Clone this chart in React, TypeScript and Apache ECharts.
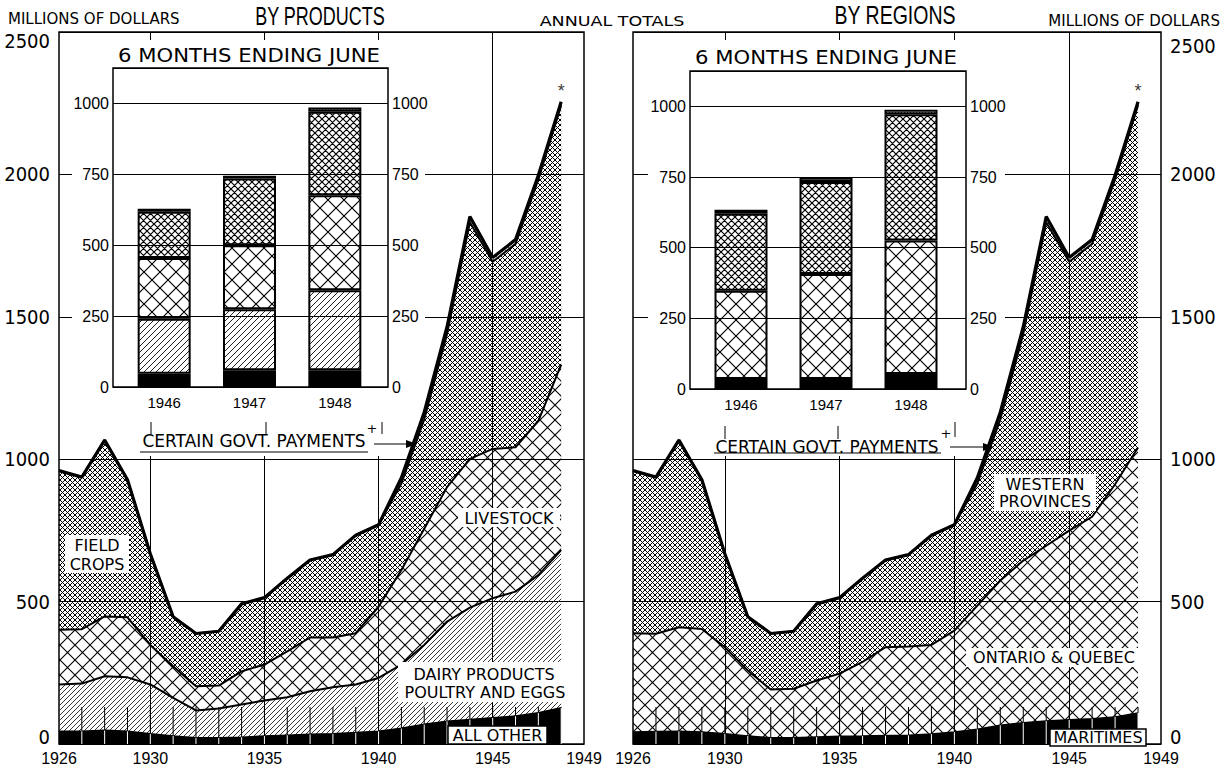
import React, { useEffect, useRef } from "react";
import * as echarts from "echarts";

// ---------- DATA ----------
const years = [1926, 1927, 1928, 1929, 1930, 1931, 1932, 1933, 1934, 1935, 1936, 1937, 1938, 1939, 1940, 1941, 1942, 1943, 1944, 1945, 1946, 1947, 1948];
const axisYears = ["1926", "1927", "1928", "1929", "1930", "1931", "1932", "1933", "1934", "1935", "1936", "1937", "1938", "1939", "1940", "1941", "1942", "1943", "1944", "1945", "1946", "1947", "1948", "1949"];
const labelYears = ["1926", "1930", "1935", "1940", "1945", "1949"];
const gridYears = ["1930", "1935", "1940", "1945"];
const totalIncome = [960, 937, 1067, 928, 668, 447, 388, 396, 492, 514, 582, 646, 665, 733, 770, 935, 1165, 1465, 1852, 1708, 1771, 1997, 2255];
const govtPayments = [0, 0, 0, 0, 0, 0, 0, 0, 0, 0, 0, 0, 0, 0, 0, 20, 25, 25, 20, 15, 15, 15, 12];

// by products
const allOther = [45, 45, 48, 45, 36, 28, 22, 22, 24, 28, 31, 34, 36, 40, 45, 55, 69, 80, 86, 92, 98, 110, 127];
const dairyPoultryEggs = [164, 167, 190, 189, 173, 134, 96, 103, 115, 125, 133, 151, 163, 169, 187, 224, 279, 350, 393, 420, 437, 483, 554];
const livestock = [192, 191, 210, 211, 139, 111, 85, 80, 116, 126, 161, 189, 175, 180, 250, 332, 408, 472, 522, 524, 507, 542, 651];
const fieldCrops = [559, 534, 619, 483, 320, 174, 185, 191, 237, 235, 257, 272, 291, 344, 288, 304, 384, 538, 831, 657, 714, 847, 911];

// by regions
const maritimes = [42, 44, 45, 42, 36, 28, 22, 22, 25, 27, 28, 30, 31, 35, 42, 52, 66, 75, 81, 85, 89, 95, 109];
const ontarioQuebec = [347, 343, 365, 362, 304, 230, 169, 172, 198, 220, 260, 310, 311, 313, 356, 434, 508, 569, 615, 664, 709, 817, 932];
const westernProvinces = [571, 550, 657, 524, 328, 189, 197, 202, 269, 267, 294, 306, 323, 385, 372, 429, 566, 796, 1136, 944, 958, 1070, 1202];

// insets: 6 months ending June
const insetYears = ["1946", "1947", "1948"];
const allOther6 = [47, 59, 59];
const dairy6 = [194, 215, 282];
const livestock6 = [214, 226, 335];
const field6 = [163, 235, 295];
const govt6 = [11, 10, 15];
const maritimes6 = [35, 35, 53];
const ontQue6 = [313, 372, 472];
const western6 = [272, 325, 447];
const govt6R = [14, 15, 16];

const mainYTicks = [0, 500, 1000, 1500, 2000, 2500];

// ---------- STYLE HELPERS ----------
const LETTER = "'DejaVu Sans', 'Liberation Sans', sans-serif";
const NUM = "'Liberation Sans', Arial, sans-serif";
const NARROW = "'Liberation Sans Narrow', 'DejaVu Sans Condensed', 'Liberation Sans', sans-serif";

function makeCross(size: number, lw: number) {
  const c = document.createElement("canvas");
  c.width = size; c.height = size;
  const g = c.getContext("2d")!;
  g.strokeStyle = "#000"; g.lineWidth = lw;
  g.beginPath();
  for (const o of [-size, 0, size]) { g.moveTo(o, 0); g.lineTo(o + size, size); }
  for (const o of [-size, 0, size]) { g.moveTo(o, size); g.lineTo(o + size, 0); }
  g.stroke();
  return { image: c, repeat: "repeat", imageWidth: size, imageHeight: size };
}
function makeDiag(size: number, lw: number) {
  const c = document.createElement("canvas");
  c.width = size; c.height = size;
  const g = c.getContext("2d")!;
  g.strokeStyle = "#222"; g.lineWidth = lw;
  g.beginPath();
  for (const o of [-size, 0, size]) { g.moveTo(o, size); g.lineTo(o + size, 0); }
  g.stroke();
  return { image: c, repeat: "repeat", imageWidth: size, imageHeight: size };
}
function makeDots(size: number) {
  const c = document.createElement("canvas");
  c.width = size; c.height = size;
  const g = c.getContext("2d")!;
  g.fillStyle = "#fff"; g.fillRect(0, 0, size, size);
  g.fillStyle = "#444"; g.fillRect(1, 1, 1, 1);
  return { image: c, repeat: "repeat", imageWidth: size, imageHeight: size };
}

function buildOption() {
  const dense = makeCross(5, 1.0);
  const coarse = makeCross(15, 1.1);
  const diag = makeDiag(5, 0.9);
  const dots = makeDots(3);
  const denseI = makeCross(7, 1.2);
  const coarseI = makeCross(16, 1.2);
  const diagI = makeDiag(6, 1);
  const clear = "rgba(0,0,0,0)";

  const area = (name: string, data: number[], stack: string, color: any, lw: number, xi: number, yi: number) => ({
    name, type: "line", stack, xAxisIndex: xi, yAxisIndex: yi, data, symbol: "none",
    lineStyle: { color: "#000", width: lw }, areaStyle: { color, opacity: 1 }, z: 2, silent: true,
  });

  const bar = (name: string, data: number[], stack: string, color: any, xi: number, yi: number) => ({
    name, type: "bar", stack, xAxisIndex: xi, yAxisIndex: yi, data, barWidth: 53,
    itemStyle: { color, borderColor: "#000", borderWidth: 2 }, z: 3, silent: true,
  });

  const tickSeries = (xi: number, yi: number, base: number[]) => ({
    type: "custom", xAxisIndex: xi, yAxisIndex: yi, z: 3, silent: true,
    data: years.slice(1).map((y, i) => [String(y), base[i + 1]]),
    renderItem: (params: any, api: any) => {
      const x = api.value(0);
      const v = api.value(1);
      const p0 = api.coord([x, 0]);
      const p1 = api.coord([x, v]);
      return {
        type: "group",
        children: [
          { type: "line", shape: { x1: p0[0], y1: p0[1], x2: p1[0], y2: p1[1] }, style: { stroke: "#fff", lineWidth: 1 } },
          { type: "line", shape: { x1: p1[0], y1: p1[1], x2: p1[0], y2: p0[1] - 37 }, style: { stroke: "#000", lineWidth: 1 } },
        ],
      };
    },
  });

  const star = (xi: number, yi: number) => ({
    type: "scatter", xAxisIndex: xi, yAxisIndex: yi, z: 5, silent: true,
    data: [[String(years[years.length - 1]), totalIncome[totalIncome.length - 1]]],
    symbolSize: 1, itemStyle: { color: clear },
    label: { show: true, formatter: "*", position: "top", distance: 1, fontSize: 18, color: "#000", fontFamily: NUM },
  });

  const mainX = (gi: number) => ({
    gridIndex: gi, type: "category", data: axisYears, boundaryGap: false,
    axisLine: { show: false }, axisTick: { show: false },
    axisLabel: {
      interval: (i: number, v: string) => labelYears.includes(v),
      fontSize: 16, fontFamily: NUM, color: "#000", margin: 6,
    },
    splitLine: { show: true, interval: (i: number, v: string) => gridYears.includes(v), lineStyle: { color: "#000", width: 1 } },
    z: 0,
  });

  const rich = {
    dn: { fontSize: 20, fontFamily: NARROW, color: "#000", padding: [18, 0, 0, 0] },
    dn2: { fontSize: 20, fontFamily: NARROW, color: "#000", padding: [28, 0, 0, 0] },
    up: { fontSize: 20, fontFamily: NARROW, color: "#000", padding: [0, 0, 14, 0] },
  };
  const mainY = (gi: number, pos: string, shift: Record<number, string>) => ({
    gridIndex: gi, type: "value", min: mainYTicks[0], max: mainYTicks[mainYTicks.length - 1], interval: 500, position: pos,
    axisLine: { show: false }, axisTick: { show: false },
    axisLabel: {
      formatter: (v: number) => (shift[v] ? `{${shift[v]}|${v}}` : String(v)),
      fontSize: 20, fontFamily: NARROW, color: "#000", margin: 9, rich,
    },
    splitLine: { show: true, lineStyle: { color: "#000", width: 1 } },
    z: 0,
  });

  const frameY = (gi: number, pos: string, split: boolean) => ({
    gridIndex: gi, type: "value", min: 0, max: 1125, interval: 250, position: pos,
    axisLine: { show: false }, axisTick: { show: false },
    axisLabel: {
      formatter: (v: number) => (v > 1000 ? "" : String(v)),
      showMaxLabel: false, fontSize: 16, fontFamily: NUM, color: "#000", margin: 4,
    },
    splitLine: { show: split, lineStyle: { color: "#000", width: 1 } },
    z: 2,
  });

  const catX = (gi: number) => ({
    gridIndex: gi, type: "category", data: insetYears,
    axisLine: { show: false }, axisTick: { show: false },
    axisLabel: { fontSize: 15, fontFamily: NUM, color: "#000", margin: 8 }, z: 2,
  });

  const txt = (text: string, x: number, y: number, size: number, family: string, align = "center", scaleX = 1) => ({
    type: "text", x, y, scaleX, z: 11, silent: true,
    style: { text, fill: "#000", font: `${size}px ${family}`, textAlign: align, textVerticalAlign: "middle", verticalAlign: "middle" },
  });
  const whiteRect = (x: number, y: number, w: number, h: number, stroke = false, z = 10) => ({
    type: "rect", z, silent: true, shape: { x, y, width: w, height: h },
    style: stroke ? { fill: "#fff", stroke: "#000", lineWidth: 1.5 } : { fill: "#fff" },
  });
  const seg = (x1: number, y1: number, x2: number, y2: number, w = 1) => ({
    type: "line", z: 11, silent: true, shape: { x1, y1, x2, y2 }, style: { stroke: "#000", lineWidth: w },
  });
  const arrowHead = (x: number, y: number) => ({
    type: "polygon", z: 11, silent: true,
    shape: { points: [[x - 11, y - 4], [x, y], [x - 11, y + 4]] }, style: { fill: "#000" },
  });

  return {
    animation: false,
    backgroundColor: "#fff",
    grid: [
      { left: 59, top: 32, width: 525, height: 714, show: true, borderColor: "#000", borderWidth: 1.5, backgroundColor: clear },
      { left: 113, top: 68, width: 275, height: 319, show: true, borderColor: "#000", borderWidth: 1.5, backgroundColor: clear, z: 2 },
      { left: 121.5, top: 68, width: 256, height: 319, show: false },
      { left: 633, top: 32, width: 528, height: 714, show: true, borderColor: "#000", borderWidth: 1.5, backgroundColor: clear },
      { left: 690, top: 71, width: 276, height: 318, show: true, borderColor: "#000", borderWidth: 1.5, backgroundColor: clear, z: 2 },
      { left: 698.5, top: 71, width: 255, height: 318, show: false },
    ],
    xAxis: [
      mainX(0),
      { gridIndex: 1, type: "value", min: 0, max: 1, show: false },
      catX(2),
      mainX(3),
      { gridIndex: 4, type: "value", min: 0, max: 1, show: false },
      catX(5),
    ],
    yAxis: [
      mainY(0, "left", { 2500: "dn", 0: "up" }),
      frameY(1, "left", true),
      frameY(1, "right", false),
      { gridIndex: 2, type: "value", min: 0, max: 1125, show: false },
      mainY(3, "right", { 2500: "dn2", 0: "up" }),
      frameY(4, "left", true),
      frameY(4, "right", false),
      { gridIndex: 5, type: "value", min: 0, max: 1125, show: false },
    ],
    series: [
      // left main (by products)
      area("All other", allOther, "p", "#000", 1.5, 0, 0),
      area("Dairy products, poultry and eggs", dairyPoultryEggs, "p", diag, 2, 0, 0),
      area("Livestock", livestock, "p", coarse, 2, 0, 0),
      area("Field crops", fieldCrops, "p", dense, 2, 0, 0),
      area("Certain govt. payments", govtPayments, "p", dots, 3.2, 0, 0),
      tickSeries(0, 0, allOther),
      star(0, 0),
      // left inset
      bar("All other", allOther6, "i", "#000", 2, 3),
      bar("Dairy products, poultry and eggs", dairy6, "i", diagI, 2, 3),
      bar("Livestock", livestock6, "i", coarseI, 2, 3),
      bar("Field crops", field6, "i", denseI, 2, 3),
      bar("Certain govt. payments", govt6, "i", dots, 2, 3),
      // right main (by regions)
      area("Maritimes", maritimes, "r", "#000", 1.5, 3, 4),
      area("Ontario & Quebec", ontarioQuebec, "r", coarse, 2, 3, 4),
      area("Western provinces", westernProvinces, "r", dense, 2, 3, 4),
      area("Certain govt. payments", govtPayments, "r", dots, 3.2, 3, 4),
      tickSeries(3, 4, maritimes),
      star(3, 4),
      // right inset
      bar("Maritimes", maritimes6, "j", "#000", 5, 7),
      bar("Ontario & Quebec", ontQue6, "j", coarseI, 5, 7),
      bar("Western provinces", western6, "j", denseI, 5, 7),
      bar("Certain govt. payments", govt6R, "j", dots, 5, 7),
    ],
    graphic: {
      elements: [
        // masks behind the insets
        whiteRect(72, 40, 353, 416, false, 1),
        whiteRect(648, 40, 357, 416, false, 1),
        // headers
        txt("MILLIONS OF DOLLARS", 8, 19, 15, LETTER, "left"),
        txt("BY PRODUCTS", 320, 16, 25, NUM, "center", 0.72),
        txt("ANNUAL TOTALS", 612, 21, 14, LETTER, "center", 1.25),
        txt("BY REGIONS", 895, 16, 25, NUM, "center", 0.78),
        txt("MILLIONS OF DOLLARS", 1220, 21, 15, LETTER, "right"),
        txt("6 MONTHS ENDING JUNE", 249, 55, 20, LETTER, "center", 1.06),
        txt("6 MONTHS ENDING JUNE", 826, 57, 20, LETTER, "center", 1.06),
        // left annotations
        whiteRect(65, 535, 64, 38),
        txt("FIELD", 97, 545, 16, LETTER),
        txt("CROPS", 97, 564, 16, LETTER),
        whiteRect(458, 508, 102, 19),
        txt("LIVESTOCK", 509, 518, 16, LETTER),
        whiteRect(398, 662, 174, 40),
        txt("DAIRY PRODUCTS", 484, 674, 16, LETTER),
        txt("POULTRY AND EGGS", 485, 692, 16, LETTER),
        whiteRect(448, 726, 99, 18, true),
        txt("ALL OTHER", 497.5, 735.5, 16, LETTER),
        txt("CERTAIN GOVT. PAYMENTS", 254, 441, 17, LETTER),
        seg(140, 452, 368, 452),
        txt("+", 372, 428, 13, LETTER),
        seg(374, 444, 408, 444),
        arrowHead(417, 444),
        seg(151, 422, 151, 434), seg(266, 422, 266, 434), seg(382, 422, 382, 434),
        // right annotations
        whiteRect(994, 474, 102, 37),
        txt("WESTERN", 1045, 484, 16, LETTER),
        txt("PROVINCES", 1045, 501, 16, LETTER),
        whiteRect(966, 648, 176, 19),
        txt("ONTARIO & QUEBEC", 1054, 657.5, 16, LETTER),
        whiteRect(1050, 729, 96, 17, true),
        txt("MARITIMES", 1098, 737.5, 16, LETTER),
        txt("CERTAIN GOVT. PAYMENTS", 827, 446.5, 17, LETTER),
        seg(714, 453, 941, 453),
        txt("+", 946, 433, 13, LETTER),
        seg(950, 447, 985, 447),
        arrowHead(994, 447),
        seg(725, 426, 725, 439), seg(838, 426, 838, 439), seg(955, 422, 955, 437),
      ],
    },
  };
}

export default function App() {
  const ref = useRef<HTMLDivElement>(null);
  useEffect(() => {
    document.body.style.margin = "0";
    const chart = echarts.init(ref.current!, undefined, { renderer: "svg" });
    chart.setOption(buildOption() as any);
    return () => chart.dispose();
  }, []);
  return <div ref={ref} style={{ position: "absolute", left: 0, top: 0, width: 1227, height: 766, background: "#fff" }} />;
}
